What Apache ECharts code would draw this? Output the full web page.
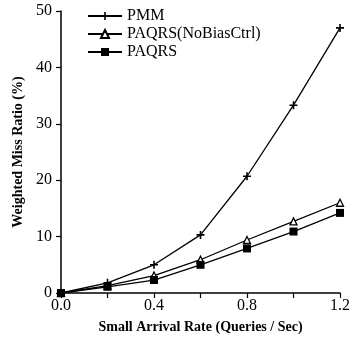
<!DOCTYPE html>
<html><head><meta charset="utf-8">
<script src="https://cdn.jsdelivr.net/npm/echarts@6/dist/echarts.min.js"></script>
<style>html,body{margin:0;padding:0;background:#fff}#c{width:353px;height:343px}</style>
</head><body><div id="c"></div>
<script>
const xValues = [0, 0.2, 0.4, 0.6, 0.8, 1.0, 1.2];
const pmm = [0, 1.8, 5.0, 10.3, 20.7, 33.3, 47.0];
const paqrsNoBias = [0, 1.3, 3.1, 5.9, 9.4, 12.7, 16.0];
const paqrs = [0, 1.1, 2.3, 5.0, 7.9, 10.9, 14.2];
const yTicks = [0, 10, 20, 30, 40, 50];
const xTickLabels = ['0.0', '0.4', '0.8', '1.2'];

const pair = arr => xValues.map((x, i) => [x, arr[i]]);
const font = '"Liberation Serif", "DejaVu Serif", serif';
const plus = 'path://M4,0h2v4h4v2h-4v4h-2v-4h-4v-2h4z';

const chart = echarts.init(document.getElementById('c'), null, {renderer: 'canvas'});
chart.setOption({
  animation: false,
  backgroundColor: '#fff',
  grid: {left: 61, right: 11, top: 11, bottom: 50, containLabel: false},
  legend: {
    left: 82, top: 3, orient: 'vertical', itemGap: 2, itemWidth: 34, itemHeight: 10,
    textStyle: {fontFamily: font, fontSize: 16, color: '#000', lineHeight: 16},
    data: ['PMM', 'PAQRS(NoBiasCtrl)', 'PAQRS']
  },
  xAxis: {
    type: 'value', min: 0, max: 1.2, interval: 0.2,
    name: 'Small Arrival Rate (Queries / Sec)', nameLocation: 'middle', nameGap: 27,
    nameTextStyle: {fontFamily: font, fontSize: 14, fontWeight: 'bold', color: '#000'},
    axisLine: {lineStyle: {color: '#000', width: 1.5}},
    axisTick: {inside: false, length: 5, lineStyle: {color: '#000', width: 1.2}},
    splitLine: {show: false},
    axisLabel: {
      fontFamily: font, fontSize: 16, color: '#000', margin: 5,
      formatter: v => { const s = v.toFixed(1); return xTickLabels.includes(s) ? s : ''; }
    }
  },
  yAxis: {
    type: 'value', min: 0, max: 50, interval: 10,
    name: 'Weighted Miss Ratio (%)', nameLocation: 'middle', nameGap: 32,
    nameTextStyle: {fontFamily: font, fontSize: 14, fontWeight: 'bold', color: '#000'},
    axisLine: {show: true, lineStyle: {color: '#000', width: 1.5}},
    axisTick: {show: true, inside: false, length: 5, lineStyle: {color: '#000', width: 1.2}},
    splitLine: {show: false},
    axisLabel: {
      fontFamily: font, fontSize: 16, color: '#000', margin: 9,
      formatter: v => yTicks.includes(v) ? String(v) : ''
    }
  },
  series: [
    {name: 'PMM', type: 'line', data: pair(pmm), symbol: plus, symbolSize: 8,
     lineStyle: {color: '#000', width: 1.3}, itemStyle: {color: '#000'}},
    {name: 'PAQRS(NoBiasCtrl)', type: 'line', data: pair(paqrsNoBias), symbol: 'triangle', symbolSize: 7,
     lineStyle: {color: '#000', width: 1.3}, itemStyle: {color: '#fff', borderColor: '#000', borderWidth: 1.3}},
    {name: 'PAQRS', type: 'line', data: pair(paqrs), symbol: 'rect', symbolSize: 8,
     lineStyle: {color: '#000', width: 1.3}, itemStyle: {color: '#000'}}
  ]
});
</script></body></html>
